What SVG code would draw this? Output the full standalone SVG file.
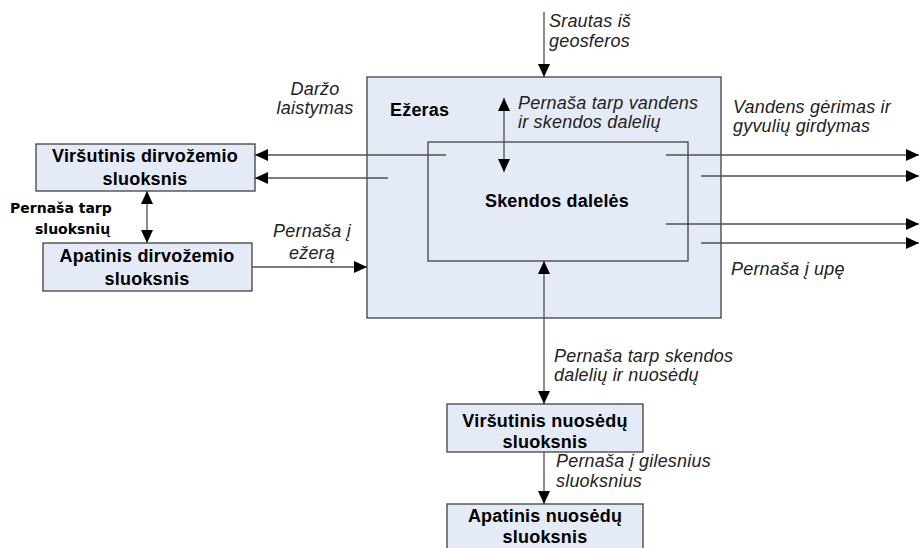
<svg xmlns="http://www.w3.org/2000/svg" width="919" height="548" viewBox="0 0 919 548">
<style>
.box{fill:#e5ebf6;stroke:#404040;stroke-width:1.3}
.inner{fill:none;stroke:#404040;stroke-width:1.3}
.b{font-family:"Liberation Sans",Arial,sans-serif;font-weight:bold;font-size:18px;fill:#000;letter-spacing:0.2px}
.i{font-family:"Liberation Sans",Arial,sans-serif;font-style:italic;font-size:18px;fill:#222;letter-spacing:0.2px}
.s{font-family:"DejaVu Sans",Verdana,sans-serif;font-weight:bold;font-size:14px;fill:#000}
.c{text-anchor:middle}
.ln{stroke:#505050;stroke-width:1.3;fill:none}
</style>
<defs>
<marker id="ah" markerUnits="userSpaceOnUse" markerWidth="13" markerHeight="12" refX="13" refY="6" orient="auto-start-reverse">
<path d="M0,0 L13,6 L0,12 z" fill="#000"/>
</marker>
</defs>

<g id="ezeras">
<rect class="box" x="367" y="77" width="354" height="241"/>
<text class="b" x="390" y="116">Ežeras</text>
</g>
<g id="skendos">
<rect class="inner" x="428" y="142" width="260" height="119"/>
<text class="b c" x="557" y="207">Skendos dalelės</text>
</g>
<g id="virs-dirv">
<rect class="box" x="36" y="144" width="219" height="47"/>
<text class="b c" x="145" y="162">Viršutinis dirvožemio</text>
<text class="b c" x="145" y="185">sluoksnis</text>
</g>
<g id="apat-dirv">
<rect class="box" x="43" y="243" width="209" height="48"/>
<text class="b c" x="147" y="262">Apatinis dirvožemio</text>
<text class="b c" x="147" y="285">sluoksnis</text>
</g>
<g id="virs-nuos">
<rect class="box" x="447" y="404" width="196" height="48"/>
<text class="b c" x="545" y="427">Viršutinis nuosėdų</text>
<text class="b c" x="545" y="448">sluoksnis</text>
</g>
<g id="apat-nuos">
<rect class="box" x="447" y="504" width="196" height="50"/>
<text class="b c" x="545" y="522">Apatinis nuosėdų</text>
<text class="b c" x="545" y="543">sluoksnis</text>
</g>

<g id="connectors">
<line class="ln" x1="544" y1="12" x2="544" y2="77" marker-end="url(#ah)"/>
<line class="ln" x1="504" y1="98" x2="504" y2="172" marker-start="url(#ah)" marker-end="url(#ah)"/>
<line class="ln" x1="544" y1="261" x2="544" y2="404" marker-start="url(#ah)" marker-end="url(#ah)"/>
<line class="ln" x1="544" y1="452" x2="544" y2="504" marker-end="url(#ah)"/>
<line class="ln" x1="446" y1="155" x2="255" y2="155" marker-end="url(#ah)"/>
<line class="ln" x1="388" y1="178" x2="255" y2="178" marker-end="url(#ah)"/>
<line class="ln" x1="147" y1="191" x2="147" y2="243" marker-start="url(#ah)" marker-end="url(#ah)"/>
<line class="ln" x1="252" y1="267" x2="367" y2="267" marker-end="url(#ah)"/>
<line class="ln" x1="666" y1="155" x2="919" y2="155" marker-end="url(#ah)"/>
<line class="ln" x1="701" y1="176" x2="919" y2="176" marker-end="url(#ah)"/>
<line class="ln" x1="666" y1="224" x2="919" y2="224" marker-end="url(#ah)"/>
<line class="ln" x1="701" y1="243" x2="919" y2="243" marker-end="url(#ah)"/>
</g>

<g id="labels">
<text class="i" x="549" y="27">Srautas iš</text>
<text class="i" x="549" y="47">geosferos</text>
<text class="i" x="518" y="109">Pernaša tarp vandens</text>
<text class="i" x="518" y="128">ir skendos dalelių</text>
<text class="i c" x="315" y="95">Daržo</text>
<text class="i c" x="315" y="114">laistymas</text>
<text class="s" x="10" y="213">Pernaša tarp</text>
<text class="s" x="35" y="234">sluoksnių</text>
<text class="i c" x="312" y="237">Pernaša į</text>
<text class="i c" x="312" y="259">ežerą</text>
<text class="i" x="733" y="113">Vandens gėrimas ir</text>
<text class="i" x="733" y="132">gyvulių girdymas</text>
<text class="i" x="731" y="275">Pernaša į upę</text>
<text class="i" x="554" y="362">Pernaša tarp skendos</text>
<text class="i" x="554" y="381">dalelių ir nuosėdų</text>
<text class="i" x="556" y="467">Pernaša į gilesnius</text>
<text class="i" x="556" y="487">sluoksnius</text>
</g>
</svg>
